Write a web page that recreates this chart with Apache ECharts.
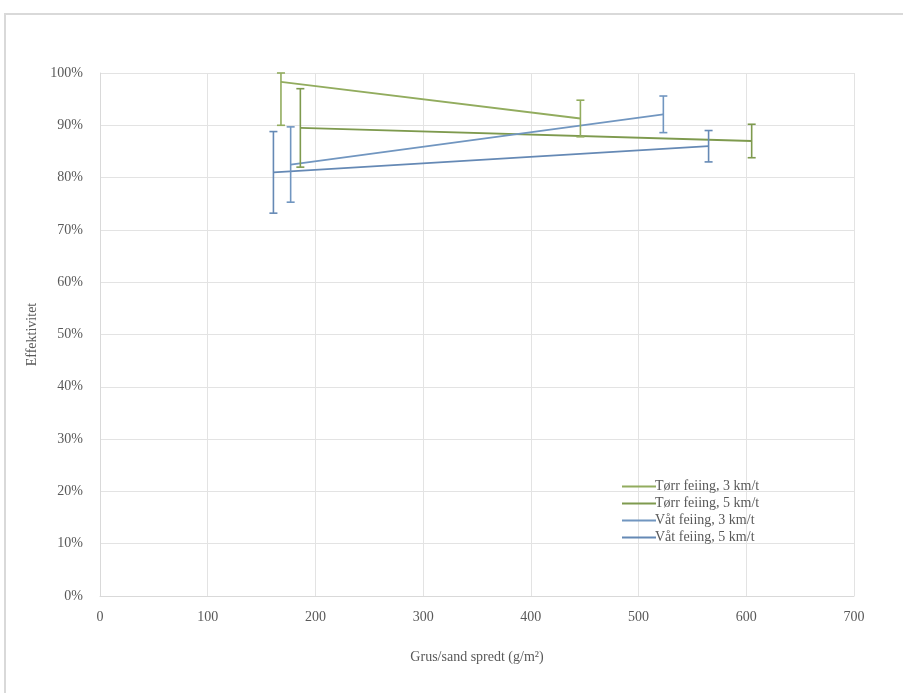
<!DOCTYPE html>
<html>
<head>
<meta charset="utf-8">
<script src="https://cdn.jsdelivr.net/npm/echarts@6/dist/echarts.min.js"></script>
<style>
  html, body { margin: 0; padding: 0; background: #ffffff; }
  #chart { width: 903px; height: 693px; }
</style>
</head>
<body>
<div id="chart"></div>
<script>
// Spread amount (g/m²) vs. sweeping efficiency (%), with error bars
const seriesNames = ['Tørr feiing, 3 km/t', 'Tørr feiing, 5 km/t', 'Våt feiing, 3 km/t', 'Våt feiing, 5 km/t'];
const seriesColors = ['#92AC5E', '#7E9A4E', '#7196C0', '#6589B5'];

const torr3X = [168, 446];
const torr3Y = [98.3, 91.3];
const torr3Err = [8.3, 3.5];

const torr5X = [186, 605];
const torr5Y = [89.5, 87.0];
const torr5Err = [7.5, 3.2];

const vaat3X = [177, 523];
const vaat3Y = [82.5, 92.1];
const vaat3Err = [7.2, 3.5];

const vaat5X = [161, 565];
const vaat5Y = [81.0, 86.0];
const vaat5Err = [7.8, 3.0];

const xTicks = { min: 0, max: 700, step: 100 };
const yTicks = { min: 0, max: 100, step: 10 };

const groups = [
  [torr3X, torr3Y, torr3Err],
  [torr5X, torr5Y, torr5Err],
  [vaat3X, vaat3Y, vaat3Err],
  [vaat5X, vaat5Y, vaat5Err]
];

const textColor = '#595959';
const fontFamily = '"Liberation Serif", "DejaVu Serif", serif';

const series = [];
groups.forEach(function (g, i) {
  const pts = g[0].map(function (x, k) { return [x, g[1][k]]; });
  const bars = g[0].map(function (x, k) { return [x, g[1][k], g[2][k]]; });
  series.push({
    name: seriesNames[i],
    type: 'line',
    data: pts,
    symbol: 'none',
    lineStyle: { color: seriesColors[i], width: 1.8 },
    itemStyle: { color: seriesColors[i] },
    z: 3
  });
  series.push({
    name: seriesNames[i],
    type: 'custom',
    data: bars,
    z: 4,
    renderItem: function (params, api) {
      const x = api.value(0), y = api.value(1), e = api.value(2);
      const hi = Math.min(y + e, yTicks.max);
      const lo = Math.max(y - e, yTicks.min);
      const pHi = api.coord([x, hi]);
      const pLo = api.coord([x, lo]);
      const cap = 4;
      const style = { stroke: seriesColors[i], lineWidth: 1.6, fill: null };
      return {
        type: 'group',
        children: [
          { type: 'line', shape: { x1: pHi[0], y1: pHi[1], x2: pLo[0], y2: pLo[1] }, style: style },
          { type: 'line', shape: { x1: pHi[0] - cap, y1: pHi[1], x2: pHi[0] + cap, y2: pHi[1] }, style: style },
          { type: 'line', shape: { x1: pLo[0] - cap, y1: pLo[1], x2: pLo[0] + cap, y2: pLo[1] }, style: style }
        ]
      };
    }
  });
});

const chart = echarts.init(document.getElementById('chart'), null, { renderer: 'canvas' });
chart.setOption({
  backgroundColor: '#ffffff',
  animation: false,
  graphic: [{
    type: 'rect',
    shape: { x: 5, y: 14, width: 1000, height: 800 },
    style: { fill: null, stroke: '#d9d9d9', lineWidth: 2 },
    silent: true,
    z: -10
  }],
  grid: { left: 100, right: 49, top: 73, bottom: 97 },
  legend: {
    data: seriesNames.map(function (n) { return { name: n, icon: 'rect' }; }),
    orient: 'vertical',
    left: 617,
    top: 474,
    itemWidth: 34,
    itemHeight: 2,
    itemGap: 2,
    selectedMode: false,
    textStyle: { color: textColor, fontFamily: fontFamily, fontSize: 14, lineHeight: 15, padding: [0, 0, 0, -6] }
  },
  xAxis: {
    type: 'value',
    min: xTicks.min, max: xTicks.max, interval: xTicks.step,
    name: 'Grus/sand spredt (g/m²)',
    nameLocation: 'middle',
    nameGap: 54,
    nameTextStyle: { color: textColor, fontFamily: fontFamily, fontSize: 14 },
    axisLine: { lineStyle: { color: '#d9d9d9' } },
    axisTick: { show: false },
    axisLabel: { color: textColor, fontFamily: fontFamily, fontSize: 14, margin: 14 },
    splitLine: { show: true, lineStyle: { color: '#e3e3e3' } }
  },
  yAxis: {
    type: 'value',
    min: yTicks.min, max: yTicks.max, interval: yTicks.step,
    name: 'Effektivitet',
    nameLocation: 'middle',
    nameGap: 60,
    nameRotate: 90,
    nameTextStyle: { color: textColor, fontFamily: fontFamily, fontSize: 14 },
    axisLine: { show: true, lineStyle: { color: '#d9d9d9' } },
    axisTick: { show: false },
    axisLabel: { color: textColor, fontFamily: fontFamily, fontSize: 14, margin: 17, formatter: '{value}%' },
    splitLine: { show: true, lineStyle: { color: '#e3e3e3' } }
  },
  series: series
});
</script>
</body>
</html>
